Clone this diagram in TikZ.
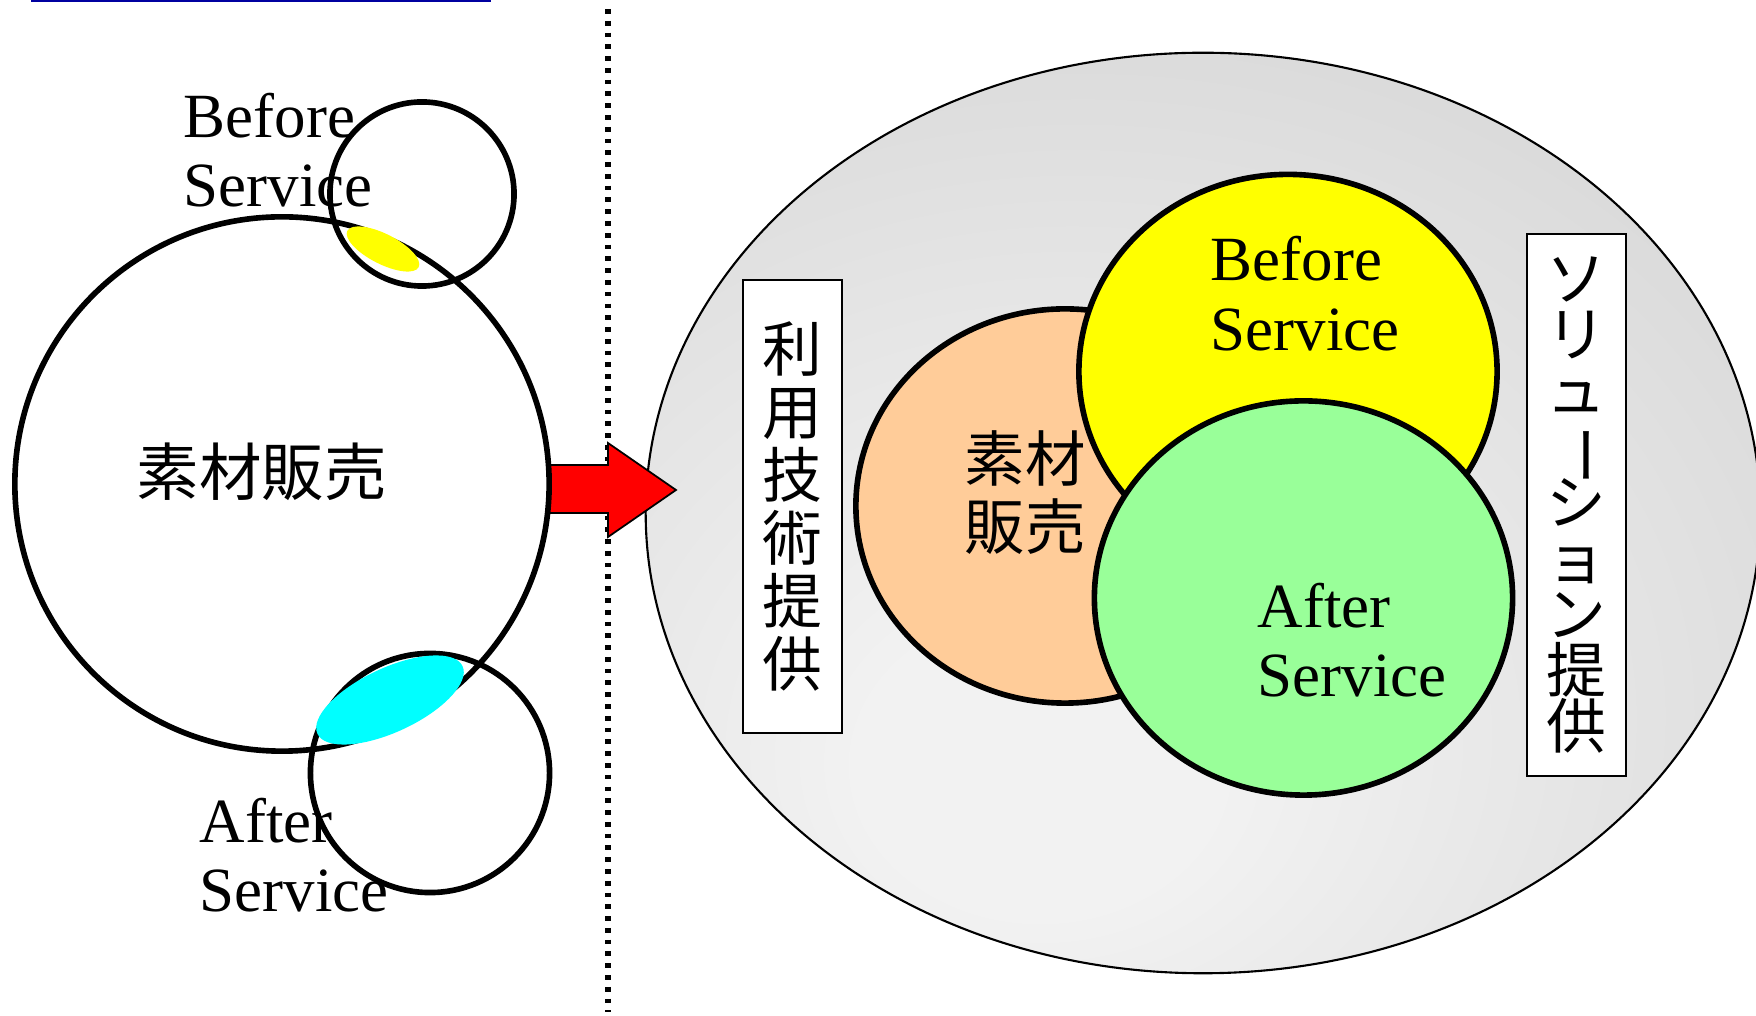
\documentclass[tikz,border=0pt]{standalone}
\usepackage{fontspec}
\usepackage{graphicx}
\setmainfont{Liberation Serif}
\newfontfamily\cjk{Noto Sans CJK JP}
\usetikzlibrary{shapes.geometric}
\definecolor{ellIn}{RGB}{242,242,242}
\definecolor{ellOut}{RGB}{217,217,217}
\definecolor{peach}{RGB}{255,204,153}
\definecolor{lgreen}{RGB}{153,255,153}
\definecolor{pyellow}{RGB}{255,255,0}
\definecolor{pcyan}{RGB}{0,255,255}
\definecolor{pred}{RGB}{255,0,0}
\definecolor{topblue}{RGB}{0,0,160}
\newcommand\tightlines{\lineskiplimit=-100pt\relax\lineskip=0pt\relax}
\pgfdeclareradialshading{ellshade}{\pgfpoint{-8bp}{-15bp}}{color(0bp)=(ellIn); color(8bp)=(ellIn); color(38bp)=(ellOut); color(100bp)=(ellOut)}
\begin{document}
\begin{tikzpicture}[x=0.01cm,y=-0.01cm,
  thickcirc/.style={circle, draw=black, line width=1.6pt, inner sep=0pt},
  thickell/.style={ellipse, draw=black, line width=1.6pt, inner sep=0pt, minimum width=4.18cm, minimum height=3.94cm},
  latin/.style={font=\fontsize{17.9}{19.8}\selectfont, inner sep=0pt},
  vbox/.style={rectangle, draw=black, fill=white, line width=0.5pt, minimum width=0.99cm, inner sep=0pt, align=center},
]
\useasboundingbox (0,0) rectangle (1756,1016);
% top blue line
\coordinate (bl1) at (31,1);
\coordinate (bl2) at (491,1);
\draw[topblue, line width=0.7pt] (bl1) -- (bl2);
% dotted divider
\coordinate (dv1) at (608,9);
\coordinate (dv2) at (608,1012);
\draw[line width=1.6pt, dash pattern=on 1.35pt off 2.0pt] (dv1) -- (dv2);
% big shaded ellipse
\node[ellipse, draw=black, line width=0.6pt, shade, shading=ellshade, minimum width=11.14cm, minimum height=9.2cm, inner sep=0pt] (sol) at (1203,513) {};
% red arrow
\draw[fill=pred, line width=0.5pt, line join=miter] (549,465) -- (608,465) -- (608,443) -- (676,490) -- (608,537) -- (608,513) -- (549,513) -- cycle;
% left circles
\node[thickcirc, minimum size=5.34cm] (sozai) at (282,484) {};
\node[thickcirc, minimum size=1.84cm] (bcirc) at (422,194) {};
\node[thickcirc, minimum size=2.39cm] (acirc) at (430,773) {};
% overlap patches
\node[ellipse, fill=pyellow, minimum width=0.8cm, minimum height=0.3cm, inner sep=0pt, rotate=-27] (ypatch) at (383,249) {};
\node[ellipse, fill=pcyan, minimum width=1.6cm, minimum height=0.64cm, inner sep=0pt, rotate=25] (cpatch) at (390,700) {};
% left texts
\node[latin, anchor=base west] (lb1) at (183,138) {Before};
\node[latin, anchor=base west] (lb2) at (183,207) {Service};
\node[latin, anchor=base west] (la1) at (199,843) {After};
\node[latin, anchor=base west] (la2) at (199,912) {Service};
\node[inner sep=0pt, font=\cjk\fontsize{17.8}{19}\selectfont] (lsozai) at (262,472) {素材販売};
% vertical boxes
\node[vbox, minimum height=4.53cm, font=\cjk\fontsize{17}{17.9}\selectfont\tightlines] (rbox) at (792.5,506.5) {利\\用\\技\\術\\提\\供};
\node[vbox, minimum height=5.42cm, font=\cjk\fontsize{17}{15.9}\selectfont\tightlines] (sbox) at (1576.5,505) {ソ\\リ\\ュ\\\rotatebox[origin=c]{-90}{ー}\\シ\\ョ\\ン\\提\\供};
% right circles
\node[thickell, fill=peach] (rsoz) at (1065,506) {};
\node[thickell, fill=pyellow] (rbef) at (1288,371.5) {};
\node[thickell, fill=lgreen] (raft) at (1303.5,598) {};
% right texts
\node[inner sep=0pt, align=center, font=\cjk\fontsize{17.2}{19.3}\selectfont] (rsoztxt) at (1025,493) {素材\\販売};
\node[latin, anchor=base west] (rb1) at (1210,281) {Before};
\node[latin, anchor=base west] (rb2) at (1210,351) {Service};
\node[latin, anchor=base west] (ra1) at (1257,628) {After};
\node[latin, anchor=base west] (ra2) at (1257,697) {Service};
\end{tikzpicture}
\end{document}
